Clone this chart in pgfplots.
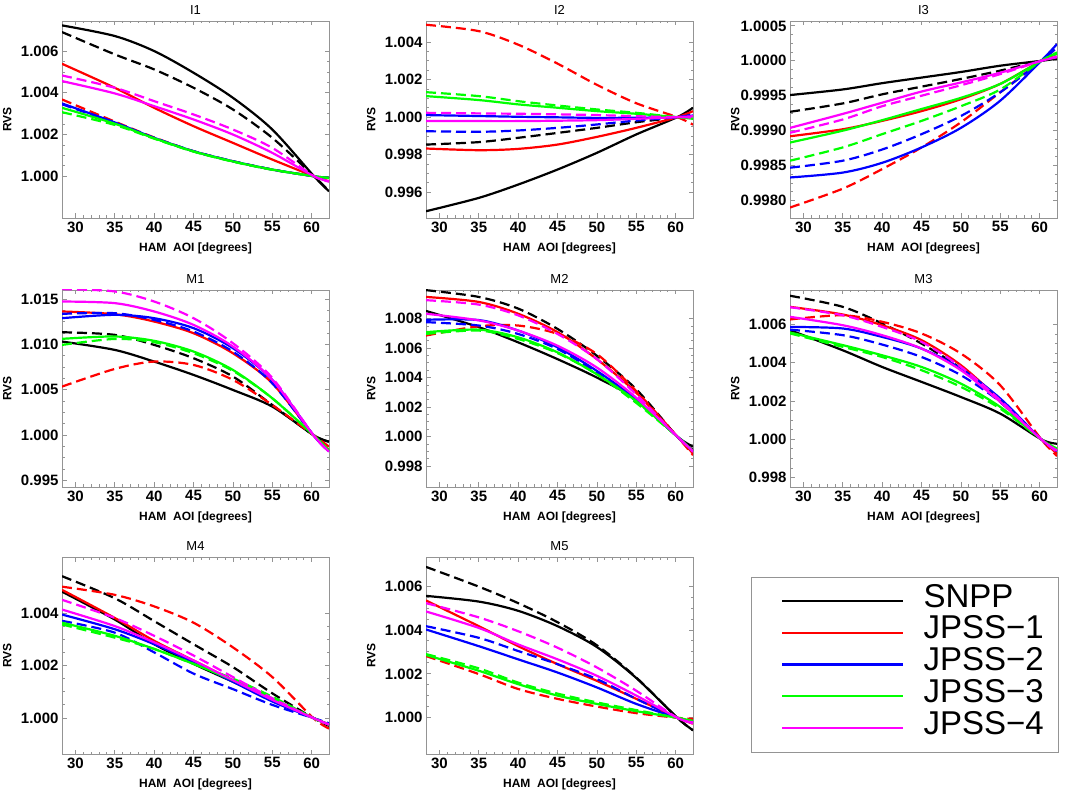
\documentclass[border=0pt]{standalone}
\usepackage{fontspec}
\setmainfont{Liberation Sans}
\usepackage{pgfplots}
\pgfplotsset{compat=1.18}
\definecolor{frm}{gray}{0.58}
\definecolor{mag}{RGB}{255,0,255}
\definecolor{grn}{RGB}{0,255,0}
\definecolor{blu}{RGB}{0,0,255}
\definecolor{rd}{RGB}{255,0,0}
\pgfplotsset{
  panel/.style={scale only axis, width=267pt, height=197pt,
    xmin=28.3, xmax=62.2, xtick={30,35,...,60},
    minor x tick num=4, minor y tick num=3,
    tick align=inside,
    axis line style={frm, line width=0.8pt},
    every tick/.style={frm, line width=0.8pt},
    major tick length=4.5pt, minor tick length=2.5pt,
    tick label style={font=\fontsize{15}{15}\selectfont\bfseries, black},
    /pgf/number format/assume math mode=true,
    scaled y ticks=false,
    yticklabel style={/pgf/number format/fixed, /pgf/number format/fixed zerofill, /pgf/number format/precision=3},
    xlabel={HAM\ \ AOI [degrees]}, ylabel={RVS},
    label style={font=\fontsize{12}{12}\selectfont\bfseries},
    xlabel style={at={(axis description cs:0.5,-0.155)}, anchor=center},
    ylabel style={at={(axis description cs:-0.205,0.5)}, anchor=center},
    every axis title/.style={at={(axis description cs:0.5,1.056)}, anchor=center, font=\fontsize{13}{13}\selectfont},
    every axis plot/.append style={line width=2.2pt, smooth, tension=0.5},
  },
  dsh/.style={dash pattern=on 10pt off 5pt},
}
\begin{document}
\begin{tikzpicture}
\path[use as bounding box] (0pt,0pt) rectangle (1065pt,798pt);

% ---------------- I1
\begin{axis}[panel, at={(62pt,580pt)}, anchor=south west, title={I1},
  ymin=0.998, ymax=1.00744, ytick={1.000,1.002,1.004,1.006}]
\addplot[black] coordinates {(28.3,1.00723)(35,1.00672)(40,1.006)(45,1.00496)(50,1.00376)(55,1.00224)(60.3,1.0)(62.2,0.99928)};
\addplot[black,dsh] coordinates {(28.3,1.00691)(35,1.00584)(40,1.00512)(45,1.00424)(50,1.0032)(55,1.00184)(60.3,1.0)(62.2,0.9993)};
\addplot[rd] coordinates {(28.3,1.00539)(35,1.00424)(40,1.00328)(45,1.0024)(50,1.0016)(55,1.0008)(60.3,1.0)(62.2,0.99976)};
\addplot[rd,dsh] coordinates {(28.3,1.00368)(35,1.00262)(40,1.00186)(45,1.0012)(50,1.00072)(55,1.00032)(60.3,1.0)(62.2,0.99992)};
\addplot[blu] coordinates {(28.3,1.00349)(35,1.00258)(40,1.00184)(45,1.0012)(50,1.00072)(55,1.00032)(60.3,1.0)(62.2,0.99992)};
\addplot[blu,dsh] coordinates {(28.3,1.00345)(35,1.00256)(40,1.00184)(45,1.0012)(50,1.00072)(55,1.00032)(60.3,1.0)(62.2,0.99992)};
\addplot[grn] coordinates {(28.3,1.00328)(35,1.00252)(40,1.00182)(45,1.00119)(50,1.00071)(55,1.00032)(60.3,1.0)(62.2,0.99992)};
\addplot[grn,dsh] coordinates {(28.3,1.00307)(35,1.00246)(40,1.0018)(45,1.00118)(50,1.0007)(55,1.00031)(60.3,1.0)(62.2,0.99992)};
\addplot[mag] coordinates {(28.3,1.00456)(35,1.00397)(40,1.00336)(45,1.00272)(50,1.002)(55,1.00112)(60.3,1.0)(62.2,0.99976)};
\addplot[mag,dsh] coordinates {(28.3,1.00483)(35,1.00424)(40,1.0036)(45,1.00296)(50,1.00224)(55,1.00136)(60.3,1.0)(62.2,0.99975)};
\end{axis}

% ---------------- I2
\begin{axis}[panel, at={(426pt,580pt)}, anchor=south west, title={I2},
  ymin=0.99463, ymax=1.00512, ytick={0.996,0.998,1.000,1.002,1.004}]
\addplot[black] coordinates {(28.3,0.99499)(35,0.9957)(40,0.99641)(45,0.99721)(50,0.9981)(55,0.99908)(60.2,1.0)(62.2,1.0005)};
\addplot[black,dsh] coordinates {(28.3,0.99854)(35,0.99867)(40,0.9989)(45,0.99916)(50,0.99943)(55,0.99973)(60.2,1.0)(62.2,1.00032)};
\addplot[rd] coordinates {(28.3,0.99833)(35,0.99824)(40,0.99831)(45,0.99854)(50,0.99895)(55,0.99943)(60.2,1.0)(62.2,1.00032)};
\addplot[rd,dsh] coordinates {(28.3,1.00492)(35,1.00458)(40,1.00386)(45,1.00285)(50,1.00172)(55,1.00074)(60.2,1.0)(62.2,0.9996)};
\addplot[blu] coordinates {(28.3,1.00011)(35,1.00006)(40,1.00002)(45,0.99999)(50,0.99996)(55,0.99997)(60.2,1.0)(62.2,1.00009)};
\addplot[blu,dsh] coordinates {(28.3,0.99925)(35,0.99922)(40,0.99929)(45,0.99943)(50,0.99961)(55,0.99982)(60.2,1.0)(62.2,1.00014)};
\addplot[grn] coordinates {(28.3,1.00112)(35,1.00091)(40,1.00068)(45,1.0005)(50,1.00032)(55,1.00018)(60.2,1.0)(62.2,0.99991)};
\addplot[grn,dsh] coordinates {(28.3,1.00133)(35,1.00112)(40,1.00085)(45,1.00062)(50,1.00041)(55,1.00023)(60.2,1.0)(62.2,0.99995)};
\addplot[mag] coordinates {(28.3,0.99979)(35,0.99979)(40,0.99979)(45,0.99981)(50,0.99984)(55,0.99991)(60.2,1.0)(62.2,1.00005)};
\addplot[mag,dsh] coordinates {(28.3,1.00023)(35,1.0002)(40,1.00018)(45,1.00015)(50,1.00011)(55,1.00005)(60.2,1.0)(62.2,0.99998)};
\end{axis}

% ---------------- I3
\begin{axis}[panel, at={(790pt,580pt)}, anchor=south west, title={I3},
  ymin=0.99775, ymax=1.00057, ytick={0.9980,0.9985,0.9990,0.9995,1.0000,1.0005},
  yticklabel style={/pgf/number format/precision=4}]
\addplot[black] coordinates {(28.3,0.99951)(35,0.99959)(40,0.99968)(45,0.99976)(50,0.99984)(55,0.99993)(60.2,1.0)(62.2,1.00003)};
\addplot[black,dsh] coordinates {(28.3,0.99927)(35,0.99939)(40,0.99952)(45,0.99963)(50,0.99974)(55,0.99986)(60.2,1.0)(62.2,1.00005)};
\addplot[rd] coordinates {(28.3,0.99892)(35,0.99902)(40,0.99914)(45,0.99928)(50,0.99945)(55,0.99967)(60.2,1.0)(62.2,1.0001)};
\addplot[rd,dsh] coordinates {(28.3,0.9979)(35,0.99817)(40,0.99845)(45,0.99876)(50,0.99912)(55,0.99955)(60.2,1.0)(62.2,1.00019)};
\addplot[blu] coordinates {(28.3,0.99833)(35,0.9984)(40,0.99854)(45,0.99876)(50,0.99904)(55,0.99943)(60.2,1.0)(62.2,1.00024)};
\addplot[blu,dsh] coordinates {(28.3,0.99847)(35,0.99857)(40,0.99873)(45,0.99895)(50,0.99921)(55,0.99955)(60.2,1.0)(62.2,1.00019)};
\addplot[grn] coordinates {(28.3,0.99883)(35,0.999)(40,0.99915)(45,0.99931)(50,0.99947)(55,0.99967)(60.2,1.0)(62.2,1.00012)};
\addplot[grn,dsh] coordinates {(28.3,0.99857)(35,0.99876)(40,0.99895)(45,0.99914)(50,0.99935)(55,0.99959)(60.2,1.0)(62.2,1.0001)};
\addplot[mag] coordinates {(28.3,0.99904)(35,0.99924)(40,0.9994)(45,0.99956)(50,0.99969)(55,0.99983)(60.2,1.0)(62.2,1.00005)};
\addplot[mag,dsh] coordinates {(28.3,0.99897)(35,0.99916)(40,0.99935)(45,0.9995)(50,0.99965)(55,0.99981)(60.2,1.0)(62.2,1.00006)};
\end{axis}

% ---------------- M1
\begin{axis}[panel, at={(62pt,311pt)}, anchor=south west, title={M1},
  ymin=0.99426, ymax=1.016, ytick={0.995,1.000,1.005,1.010,1.015}]
\addplot[black] coordinates {(28.3,1.01031)(35,1.00939)(40,1.0081)(45,1.00663)(50,1.00497)(55,1.00313)(60.2,1.0)(62.2,0.99926)};
\addplot[black,dsh] coordinates {(28.3,1.01134)(35,1.01105)(40,1.00994)(45,1.00847)(50,1.00645)(55,1.00331)(60.2,1.0)(62.2,0.99926)};
\addplot[rd] coordinates {(28.3,1.01363)(35,1.01333)(40,1.01252)(45,1.01123)(50,1.00902)(55,1.00571)(60.2,1.0)(62.2,0.99834)};
\addplot[rd,dsh] coordinates {(28.3,1.00534)(35,1.00729)(40,1.0081)(45,1.00773)(50,1.00608)(55,1.00331)(60.2,1.0)(62.2,0.99871)};
\addplot[blu] coordinates {(28.3,1.01289)(35,1.01326)(40,1.01289)(45,1.01179)(50,1.00958)(55,1.00608)(60.2,1.0)(62.2,0.9982)};
\addplot[blu,dsh] coordinates {(28.3,1.01337)(35,1.01344)(40,1.0127)(45,1.01142)(50,1.0092)(55,1.00571)(60.2,1.0)(62.2,0.9982)};
\addplot[grn] coordinates {(28.3,1.01061)(35,1.01087)(40,1.01039)(45,1.00921)(50,1.00718)(55,1.00405)(60.2,1.0)(62.2,0.9983)};
\addplot[grn,dsh] coordinates {(28.3,1.00994)(35,1.0106)(40,1.01024)(45,1.00902)(50,1.00707)(55,1.00405)(60.2,1.0)(62.2,0.9983)};
\addplot[mag] coordinates {(28.3,1.01473)(35,1.01455)(40,1.01363)(45,1.01215)(50,1.00976)(55,1.00608)(60.2,1.0)(62.2,0.99816)};
\addplot[mag,dsh] coordinates {(28.3,1.0161)(35,1.01584)(40,1.01473)(45,1.01289)(50,1.01013)(55,1.0063)(60.2,1.0)(62.2,0.99816)};
\end{axis}

% ---------------- M2
\begin{axis}[panel, at={(426pt,311pt)}, anchor=south west, title={M2},
  ymin=0.99658, ymax=1.00994, ytick={0.998,1.000,1.002,1.004,1.006,1.008}]
\addplot[black] coordinates {(28.3,1.00852)(35,1.00742)(40,1.00639)(45,1.00525)(50,1.004)(55,1.00251)(60.2,1.0)(62.2,0.99932)};
\addplot[black,dsh] coordinates {(28.3,1.00993)(35,1.00947)(40,1.00868)(45,1.0073)(50,1.00548)(55,1.0032)(60.2,1.0)(62.2,0.99909)};
\addplot[rd] coordinates {(28.3,1.00947)(35,1.00913)(40,1.00833)(45,1.00708)(50,1.00525)(55,1.00297)(60.2,1.0)(62.2,0.99886)};
\addplot[rd,dsh] coordinates {(28.3,1.00685)(35,1.00748)(40,1.00753)(45,1.00696)(50,1.00559)(55,1.00308)(60.2,1.0)(62.2,0.99874)};
\addplot[blu] coordinates {(28.3,1.00792)(35,1.0079)(40,1.00719)(45,1.00605)(50,1.00445)(55,1.00251)(60.2,1.0)(62.2,0.999)};
\addplot[blu,dsh] coordinates {(28.3,1.00776)(35,1.00753)(40,1.00696)(45,1.00594)(50,1.00434)(55,1.0024)(60.2,1.0)(62.2,0.999)};
\addplot[grn] coordinates {(28.3,1.00708)(35,1.00725)(40,1.00673)(45,1.00571)(50,1.00422)(55,1.0024)(60.2,1.0)(62.2,0.999)};
\addplot[grn,dsh] coordinates {(28.3,1.00696)(35,1.00719)(40,1.00662)(45,1.00566)(50,1.00422)(55,1.00228)(60.2,1.0)(62.2,0.999)};
\addplot[mag] coordinates {(28.3,1.00833)(35,1.00788)(40,1.00719)(45,1.00616)(50,1.00468)(55,1.00263)(60.2,1.0)(62.2,0.999)};
\addplot[mag,dsh] coordinates {(28.3,1.00925)(35,1.00895)(40,1.00822)(45,1.00696)(50,1.00525)(55,1.00285)(60.2,1.0)(62.2,0.99897)};
\end{axis}

% ---------------- M3
\begin{axis}[panel, at={(790pt,311pt)}, anchor=south west, title={M3},
  ymin=0.99751, ymax=1.0078, ytick={0.998,1.000,1.002,1.004,1.006}]
\addplot[black] coordinates {(28.3,1.0057)(35,1.00465)(40,1.00378)(45,1.003)(50,1.00221)(55,1.00134)(60.2,1.0)(62.2,0.99977)};
\addplot[black,dsh] coordinates {(28.3,1.0075)(35,1.00692)(40,1.00605)(45,1.005)(50,1.0037)(55,1.00195)(60.2,1.0)(62.2,0.99942)};
\addplot[rd] coordinates {(28.3,1.00692)(35,1.00652)(40,1.00596)(45,1.00518)(50,1.00387)(55,1.00204)(60.2,1.0)(62.2,0.99925)};
\addplot[rd,dsh] coordinates {(28.3,1.00626)(35,1.00648)(40,1.00614)(45,1.00553)(50,1.00448)(55,1.00282)(60.2,1.0)(62.2,0.99913)};
\addplot[blu] coordinates {(28.3,1.00587)(35,1.00579)(40,1.00535)(45,1.00474)(50,1.0037)(55,1.00213)(60.2,1.0)(62.2,0.9994)};
\addplot[blu,dsh] coordinates {(28.3,1.00573)(35,1.00544)(40,1.00495)(45,1.0043)(50,1.00335)(55,1.00195)(60.2,1.0)(62.2,0.9994)};
\addplot[grn] coordinates {(28.3,1.00558)(35,1.00492)(40,1.00439)(45,1.00378)(50,1.00291)(55,1.00169)(60.2,1.0)(62.2,0.99951)};
\addplot[grn,dsh] coordinates {(28.3,1.00553)(35,1.00483)(40,1.0043)(45,1.00361)(50,1.00274)(55,1.0016)(60.2,1.0)(62.2,0.99951)};
\addplot[mag] coordinates {(28.3,1.0064)(35,1.00596)(40,1.00544)(45,1.00474)(50,1.00361)(55,1.00195)(60.2,1.0)(62.2,0.99942)};
\addplot[mag,dsh] coordinates {(28.3,1.0069)(35,1.00648)(40,1.00587)(45,1.00509)(50,1.00378)(55,1.00204)(60.2,1.0)(62.2,0.99935)};
\end{axis}

% ---------------- M4
\begin{axis}[panel, at={(62pt,44pt)}, anchor=south west, title={M4},
  ymin=0.99863, ymax=1.00613, ytick={1.000,1.002,1.004}]
\addplot[black] coordinates {(28.3,1.00481)(35,1.00375)(40,1.00281)(45,1.00206)(50,1.00138)(55,1.00069)(60.2,1.0)(62.2,0.99975)};
\addplot[black,dsh] coordinates {(28.3,1.0054)(35,1.00456)(40,1.00369)(45,1.00281)(50,1.00194)(55,1.00094)(60.2,1.0)(62.2,0.9997)};
\addplot[rd] coordinates {(28.3,1.00488)(35,1.00381)(40,1.00294)(45,1.00219)(50,1.00144)(55,1.00069)(60.2,1.0)(62.2,0.99975)};
\addplot[rd,dsh] coordinates {(28.3,1.005)(35,1.00469)(40,1.00425)(45,1.00363)(50,1.00269)(55,1.00156)(60.2,1.0)(62.2,0.9996)};
\addplot[blu] coordinates {(28.3,1.00394)(35,1.00338)(40,1.00281)(45,1.00213)(50,1.00138)(55,1.00063)(60.2,1.0)(62.2,0.99975)};
\addplot[blu,dsh] coordinates {(28.3,1.0037)(35,1.00325)(40,1.0025)(45,1.00169)(50,1.0011)(55,1.0005)(60.2,1.0)(62.2,0.9998)};
\addplot[grn] coordinates {(28.3,1.00363)(35,1.00313)(40,1.00263)(45,1.00206)(50,1.00144)(55,1.00075)(60.2,1.0)(62.2,0.99975)};
\addplot[grn,dsh] coordinates {(28.3,1.00356)(35,1.00306)(40,1.00263)(45,1.00206)(50,1.0015)(55,1.00081)(60.2,1.0)(62.2,0.99975)};
\addplot[mag] coordinates {(28.3,1.00413)(35,1.0035)(40,1.00288)(45,1.00219)(50,1.00144)(55,1.00069)(60.2,1.0)(62.2,0.99975)};
\addplot[mag,dsh] coordinates {(28.3,1.0045)(35,1.00381)(40,1.00313)(45,1.00238)(50,1.00156)(55,1.00075)(60.2,1.0)(62.2,0.99975)};
\end{axis}

% ---------------- M5
\begin{axis}[panel, at={(426pt,44pt)}, anchor=south west, title={M5},
  ymin=0.99835, ymax=1.00732, ytick={1.000,1.002,1.004,1.006}]
\addplot[black] coordinates {(28.3,1.00555)(35,1.00529)(40,1.00487)(45,1.00417)(50,1.00322)(55,1.00181)(60.2,1.0)(62.2,0.99943)};
\addplot[black,dsh] coordinates {(28.3,1.00687)(35,1.00597)(40,1.00522)(45,1.00435)(50,1.0033)(55,1.00183)(60.2,1.0)(62.2,0.99943)};
\addplot[rd] coordinates {(28.3,1.00534)(35,1.00417)(40,1.00326)(45,1.00244)(50,1.00168)(55,1.00086)(60.2,1.0)(62.2,0.99973)};
\addplot[rd,dsh] coordinates {(28.3,1.00281)(35,1.00199)(40,1.00131)(45,1.00086)(50,1.00051)(55,1.00021)(60.2,1.0)(62.2,0.99995)};
\addplot[blu] coordinates {(28.3,1.00402)(35,1.00326)(40,1.00266)(45,1.00206)(50,1.00138)(55,1.00063)(60.2,1.0)(62.2,0.9998)};
\addplot[blu,dsh] coordinates {(28.3,1.00417)(35,1.00364)(40,1.00304)(45,1.00244)(50,1.00176)(55,1.00086)(60.2,1.0)(62.2,0.9998)};
\addplot[grn] coordinates {(28.3,1.00286)(35,1.00214)(40,1.00153)(45,1.00101)(50,1.00063)(55,1.0003)(60.2,1.0)(62.2,0.99985)};
\addplot[grn,dsh] coordinates {(28.3,1.0029)(35,1.00225)(40,1.0016)(45,1.0011)(50,1.0007)(55,1.00035)(60.2,1.0)(62.2,0.99985)};
\addplot[mag] coordinates {(28.3,1.00484)(35,1.00409)(40,1.00334)(45,1.00266)(50,1.00191)(55,1.00101)(60.2,1.0)(62.2,0.99975)};
\addplot[mag,dsh] coordinates {(28.3,1.00522)(35,1.00457)(40,1.00394)(45,1.00319)(50,1.00229)(55,1.00123)(60.2,1.0)(62.2,0.9998)};
\end{axis}

% ---------------- legend box
\begin{axis}[at={(751pt,46pt)}, anchor=south west, scale only axis,
  width=307pt, height=175pt, xmin=0, xmax=1, ymin=0, ymax=1,
  xtick=\empty, ytick=\empty, axis line style={frm, line width=0.8pt},
  legend style={at={(axis description cs:0.0977,0.5)}, anchor=west,
    draw=none, fill=none, inner sep=0pt, row sep=0pt,
    font=\fontsize{33}{33}\selectfont,
    nodes={inner sep=0pt, text height=22pt, text depth=9.7pt}},
  legend cell align=left,
  legend image code/.code={\draw[#1, line width=2.2pt] (0pt,0pt) -- (121pt,0pt); \path (141pt,0pt);}]
\addlegendimage{black}
\addlegendentry{SNPP}
\addlegendimage{rd}
\addlegendentry{JPSS−1}
\addlegendimage{blu}
\addlegendentry{JPSS−2}
\addlegendimage{grn}
\addlegendentry{JPSS−3}
\addlegendimage{mag}
\addlegendentry{JPSS−4}
\end{axis}
\end{tikzpicture}
\end{document}
